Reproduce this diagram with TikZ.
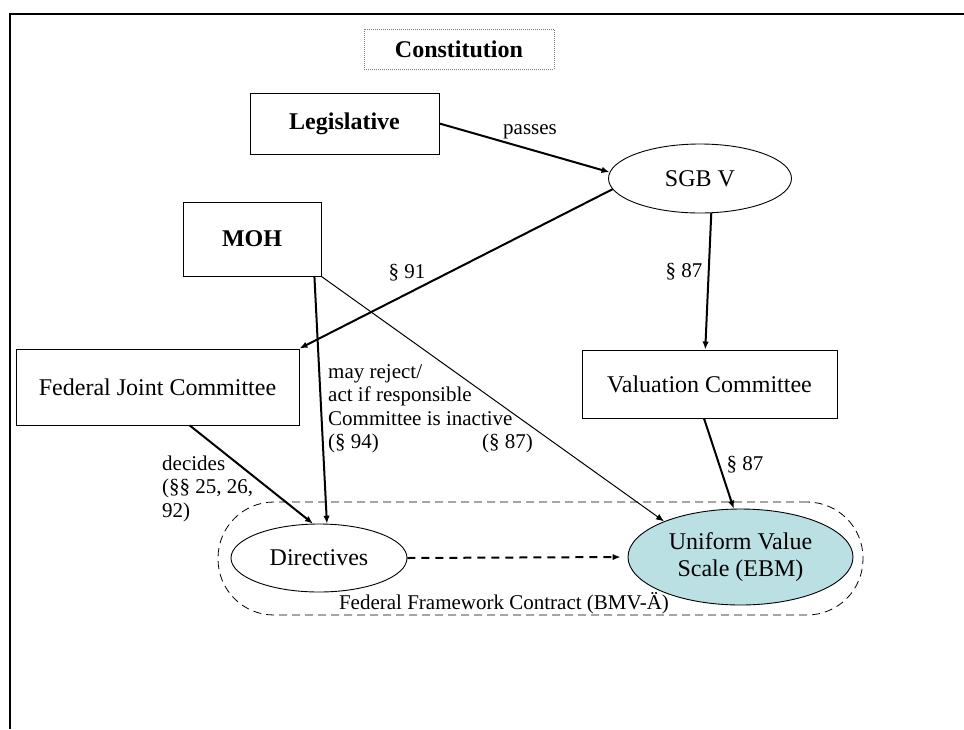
\documentclass[tikz,border=0pt]{standalone}
\usepackage{fontspec}
\setmainfont{Liberation Serif}
\usetikzlibrary{shapes.geometric,arrows.meta}
\definecolor{uvsblue}{HTML}{BBE0E3}
\begin{document}
\begin{tikzpicture}[x=1pt,y=-1pt,
  bigtxt/.style={font=\fontsize{24}{27}\selectfont},
  boldtxt/.style={font=\bfseries\fontsize{24}{27}\selectfont},
  lbl/.style={font=\fontsize{21}{23.5}\selectfont, inner sep=0pt, align=left},
  boxnode/.style={draw, line width=1pt, rectangle, inner sep=0pt, bigtxt},
  ell/.style={draw, line width=0.9pt, ellipse, inner sep=0pt, bigtxt, align=center},
  tip/.style={-{Latex[length=8pt,width=6.5pt]}},
  thickarrow/.style={line width=2pt, tip},
  thinarrow/.style={line width=1pt, tip},
]
\useasboundingbox (0,0) rectangle (964,729);
% frame
\draw[line width=2.5pt] (964,14) -- (10,14) -- (10,729);

% framework contract (dashed stadium)
\node[draw, dash pattern=on 8pt off 5pt, line width=0.8pt, rectangle,
      rounded corners=56pt, minimum width=645pt, minimum height=113pt, inner sep=0pt]
      (bmv) at (540.5,558.5) {};

% nodes
\node[boxnode, boldtxt, draw=gray, dash pattern=on 1pt off 1pt, line width=0.8pt,
      minimum width=190pt, minimum height=40pt] (con) at (459,49) {Constitution};
\node[boxnode, boldtxt, minimum width=189pt, minimum height=61pt] (leg) at (344.5,123.5) {Legislative};
\node[boxnode, boldtxt, minimum width=138pt, minimum height=74pt] (moh) at (252,239) {MOH};
\node[ell, minimum width=183pt, minimum height=69pt] (sgb) at (700,178.5) {SGB V};
\node[boxnode, minimum width=283pt, minimum height=76pt] (fjc) at (157.5,387) {Federal Joint Committee};
\node[boxnode, minimum width=255pt, minimum height=68pt] (val) at (709.5,384) {Valuation Committee};
\node[ell, minimum width=176pt, minimum height=68pt] (dir) at (319,558) {Directives};
\node[ell, fill=uvsblue, minimum width=225pt, minimum height=96pt] (uvs) at (740.5,557) {Uniform Value\\Scale (EBM)};

% labels
\node[lbl] (passes) at (530,132) {passes};
\node[lbl] (s91) at (407,273) {§ 91};
\node[lbl] (s87a) at (684,272) {§ 87};
\node[lbl, anchor=base west] (may) at (328,448.5) {may reject/\\act if responsible\\Committee is inactive\\(§ 94)};
\node[lbl, anchor=base west] (s87b) at (482,448.5) {(§ 87)};
\node[lbl, anchor=base west] (dec) at (162,517) {decides\\(§§ 25, 26,\\92)};
\node[lbl] (s87c) at (745,465) {§ 87};
\node[lbl] (bmvlbl) at (504,603) {Federal Framework Contract (BMV-Ä)};

% connectors
\draw[thickarrow] (leg.east) -- (sgb.176);
\draw[thickarrow] (sgb.187) -- (fjc.north east);
\draw[thickarrow] (sgb.288) -- (val.97);
\draw[thickarrow] (moh.329) -- (dir.77);
\draw[thinarrow] (moh.south east) -- (uvs.155);
\draw[thickarrow] (fjc.310) -- (dir.100);
\draw[thickarrow] (val.261) -- (uvs.98);
\draw[thickarrow, dash pattern=on 8pt off 6pt, shorten >=7pt] (dir.east) -- (uvs.west);
\end{tikzpicture}
\end{document}
